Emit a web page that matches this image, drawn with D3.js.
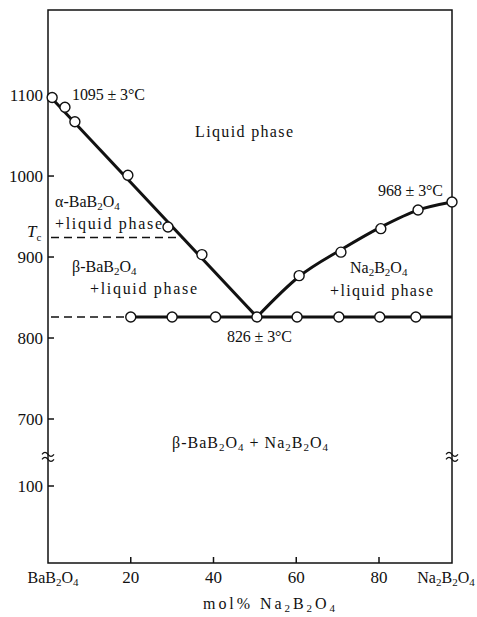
<!DOCTYPE html>
<html>
<head>
<meta charset="utf-8">
<script src="https://cdn.jsdelivr.net/npm/d3@7"></script>
<style>
  body { margin: 0; background: #fff; }
  text { font-family: "Liberation Serif", "DejaVu Serif", serif; font-size: 16px; fill: #111; }
</style>
</head>
<body>
<div id="chart"></div>
<script>
// values (mol% Na2B2O4, temperature in C)
const solidusX = [20, 30, 40.5, 50.5, 60.2, 70.3, 80.2, 90.1];
const solidusT = 826;
const leftLiqX = [1, 4.1, 6.5, 19.3, 29, 37.2];
const leftLiqT = [1097, 1085, 1067, 1001, 937, 903];
const rightLiqX = [60.7, 70.8, 80.5, 90.7, 100];
const rightLiqT = [877, 906, 935, 958, 968];
const leftLineX = [0, 50.5];
const leftLineT = [1101, 826];
const rightCurveX = [50.5, 60.7, 70.8, 80.5, 90.7, 100];
const rightCurveT = [826, 876, 909, 937, 958, 968];
const Tc = 924;
const breakT = 360; // where the axis break is drawn
const yTicks = [100, 700, 800, 900, 1000, 1100];
const xTicks = [20, 40, 60, 80];

const w = 477, h = 617;
const svg = d3.select("#chart").append("svg").attr("width", w).attr("height", h);

// piecewise scales, the figure is hand drawn and the y axis is broken
const x = d3.scaleLinear().domain([0, 80, 100]).range([48, 379, 452]);
const y = d3.scaleLinear().domain([5, 100, 700, 1205]).range([563, 486, 419, 10]);

// writes "BaB_2O_4" style text with subscripts
function rich(sel, str) {
  const parts = str.split(/(_.)/).filter(s => s.length);
  let down = false;
  parts.forEach(p => {
    if (p[0] === "_") {
      sel.append("tspan").attr("dy", down ? 0 : 3).style("font-size", "11px").text(p[1]);
      down = true;
    } else {
      sel.append("tspan").attr("dy", down ? -3 : 0).text(p);
      down = false;
    }
  });
  return sel;
}
function label(px, py, str, anchor, len) {
  const t = svg.append("text").attr("x", px).attr("y", py).attr("text-anchor", anchor || "start");
  rich(t, str);
  if (len) t.attr("textLength", len).attr("lengthAdjust", "spacing");
  return t;
}

// frame
const frame = svg.append("g").attr("fill", "none").attr("stroke", "#111").attr("stroke-width", 1.5);
frame.append("rect")
  .attr("x", x(0)).attr("y", y(1205))
  .attr("width", x(100) - x(0)).attr("height", y(5) - y(1205));

// ticks pointing inward
yTicks.forEach(t => {
  frame.append("line").attr("x1", x(0)).attr("x2", x(0) + 6).attr("y1", y(t)).attr("y2", y(t));
  svg.append("text").attr("x", 43).attr("y", y(t)).attr("dy", "0.35em")
    .attr("text-anchor", "end").style("font-size", "17px").text(t);
});
xTicks.forEach(t => {
  frame.append("line").attr("x1", x(t)).attr("x2", x(t)).attr("y1", y(5)).attr("y2", y(5) - 6);
  svg.append("text").attr("x", x(t)).attr("y", 583).attr("text-anchor", "middle")
    .style("font-size", "17px").text(t);
});

// axis breaks
[x(0), x(100)].forEach(px => {
  const by = y(breakT);
  [-2.5, 2.5].forEach(o => {
    svg.append("path")
      .attr("d", `M${px - 6},${by + o} q3,-4 6,0 t6,0`)
      .attr("fill", "none").attr("stroke", "#111").attr("stroke-width", 1.2);
  });
});

// dashed lines: Tc and solidus extension
const tcEnd = leftLineX[0] + (leftLineT[0] - Tc) / (leftLineT[0] - leftLineT[1]) * (leftLineX[1] - leftLineX[0]);
svg.append("line")
  .attr("x1", x(0) + 3).attr("x2", x(tcEnd)).attr("y1", y(Tc)).attr("y2", y(Tc))
  .attr("stroke", "#111").attr("stroke-width", 1.5).attr("stroke-dasharray", "8,5");
svg.append("line")
  .attr("x1", x(0) + 3).attr("x2", x(solidusX[0])).attr("y1", y(solidusT)).attr("y2", y(solidusT))
  .attr("stroke", "#111").attr("stroke-width", 1.5).attr("stroke-dasharray", "8,5");

// solidus
svg.append("line")
  .attr("x1", x(solidusX[0])).attr("x2", x(100)).attr("y1", y(solidusT)).attr("y2", y(solidusT))
  .attr("stroke", "#111").attr("stroke-width", 3);

// liquidus lines
const line = d3.line().x(d => x(d[0])).y(d => y(d[1]));
svg.append("path")
  .attr("d", line(leftLineX.map((v, i) => [v, leftLineT[i]])))
  .attr("fill", "none").attr("stroke", "#111").attr("stroke-width", 3);
svg.append("path")
  .attr("d", line.curve(d3.curveMonotoneX)(rightCurveX.map((v, i) => [v, rightCurveT[i]])))
  .attr("fill", "none").attr("stroke", "#111").attr("stroke-width", 3);

// measured points
const pts = []
  .concat(leftLiqX.map((v, i) => [v, leftLiqT[i]]))
  .concat(rightLiqX.map((v, i) => [v, rightLiqT[i]]))
  .concat(solidusX.map(v => [v, solidusT]));
svg.append("g").selectAll("circle").data(pts).enter().append("circle")
  .attr("cx", d => x(d[0])).attr("cy", d => y(d[1])).attr("r", 5)
  .attr("fill", "#fff").attr("stroke", "#111").attr("stroke-width", 1.4);

// annotations
label(72, 100, "1095 ± 3°C", "start", 73);
label(378, 196, "968 ± 3°C", "start", 65);
label(227, 342, "826 ± 3°C", "start", 65);
label(195, 137, "Liquid phase", "start", 98);
label(55, 207, "α-BaB_2O_4");
label(55, 229, "+liquid phase", "start", 107);
label(72, 272, "β-BaB_2O_4");
label(90, 294, "+liquid phase", "start", 107);
label(350, 273, "Na_2B_2O_4");
label(330, 296, "+liquid phase", "start", 103);
label(172, 448, "β-BaB_2O_4 + Na_2B_2O_4", "start", 156);

const tc = svg.append("text").attr("x", 27).attr("y", y(Tc) - 1).style("font-size", "17px");
tc.append("tspan").style("font-style", "italic").text("T");
tc.append("tspan").attr("dy", 4).style("font-size", "11px").text("c");

label(x(0) + 5, 583, "BaB_2O_4", "middle");
label(446, 583, "Na_2B_2O_4", "middle");
label(203, 609, "mol%  Na_2B_2O_4", "start", 132);
</script>
</body>
</html>
